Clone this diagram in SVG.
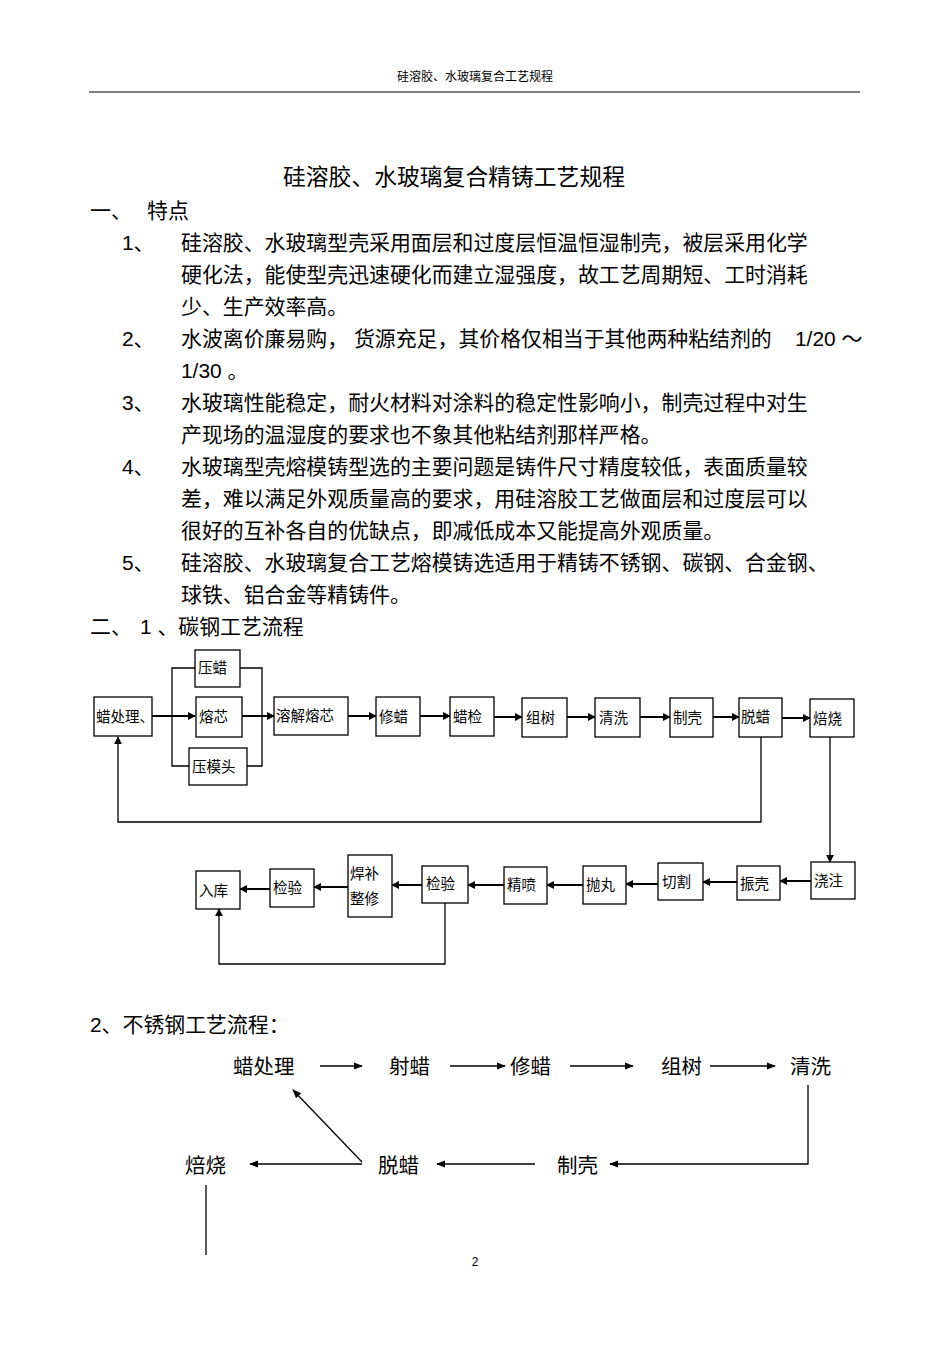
<svg xmlns="http://www.w3.org/2000/svg" width="950" height="1345" viewBox="0 0 950 1345">
<style>
.t{font-family:"Liberation Sans","Noto Sans CJK SC",sans-serif;fill:#000}
.b{font-size:20.9px}
.s{font-size:14.5px}
.f{font-size:20.5px}
rect{fill:#fff;stroke:#000;stroke-width:1.3}
.c line,.c polyline{stroke:#000;stroke-width:1.3;fill:none}
.c .a{stroke-width:2}
</style>
<defs>
<marker id="m" viewBox="0 0 10 10" refX="9" refY="5" markerWidth="8" markerHeight="8" orient="auto" markerUnits="userSpaceOnUse"><path d="M0,0L10,5L0,10z" fill="#000"/></marker>
<marker id="m2" viewBox="0 0 10 10" refX="9" refY="5" markerWidth="9" markerHeight="9" orient="auto" markerUnits="userSpaceOnUse"><path d="M0,1L10,5L0,9z" fill="#000"/></marker>
</defs>
<text class="t" x="475" y="81" font-size="12" fill="#333" text-anchor="middle">硅溶胶、水玻璃复合工艺规程</text>
<line x1="89" y1="92" x2="860" y2="92" stroke="#000" stroke-width="1"/>
<text class="t" x="454" y="185" font-size="22.8" text-anchor="middle">硅溶胶、水玻璃复合精铸工艺规程</text>
<g class="t b">
<text x="90" y="218">一、</text><text x="147" y="218">特点</text>
<text x="122" y="250">1、</text><text x="181" y="250">硅溶胶、水玻璃型壳采用面层和过度层恒温恒湿制壳，被层采用化学</text>
<text x="181" y="282">硬化法，能使型壳迅速硬化而建立湿强度，故工艺周期短、工时消耗</text>
<text x="181" y="314">少、生产效率高。</text>
<text x="122" y="346">2、</text><text x="181" y="346">水波离价廉易购， 货源充足，其价格仅相当于其他两种粘结剂的</text><text x="795" y="346">1/20 ～</text>
<text x="181" y="378">1/30 。</text>
<text x="122" y="410">3、</text><text x="181" y="410">水玻璃性能稳定，耐火材料对涂料的稳定性影响小，制壳过程中对生</text>
<text x="181" y="442">产现场的温湿度的要求也不象其他粘结剂那样严格。</text>
<text x="122" y="474">4、</text><text x="181" y="474">水玻璃型壳熔模铸型选的主要问题是铸件尺寸精度较低，表面质量较</text>
<text x="181" y="506">差，难以满足外观质量高的要求，用硅溶胶工艺做面层和过度层可以</text>
<text x="181" y="538">很好的互补各自的优缺点，即减低成本又能提高外观质量。</text>
<text x="122" y="570">5、</text><text x="181" y="570">硅溶胶、水玻璃复合工艺熔模铸选适用于精铸不锈钢、碳钢、合金钢、</text>
<text x="181" y="602">球铁、铝合金等精铸件。</text>
<text x="90" y="634">二、</text><text x="140" y="634">1 、碳钢工艺流程</text>
<text x="90" y="1032">2、不锈钢工艺流程：</text>
</g>
<g class="c">
<line class="a" x1="152" y1="716" x2="195" y2="716" marker-end="url(#m)"/>
<polyline points="195,668 172,668 172,766 189,766"/>
<polyline points="240,668 262,668 262,766 247,766"/>
<line class="a" x1="242" y1="716" x2="274" y2="716" marker-end="url(#m)"/>
<line class="a" x1="348" y1="716" x2="376" y2="716" marker-end="url(#m)"/>
<line class="a" x1="420" y1="716" x2="450" y2="716" marker-end="url(#m)"/>
<line class="a" x1="494" y1="717" x2="522" y2="717" marker-end="url(#m)"/>
<line class="a" x1="567" y1="717" x2="595" y2="717" marker-end="url(#m)"/>
<line class="a" x1="640" y1="717" x2="670" y2="717" marker-end="url(#m)"/>
<line class="a" x1="713" y1="717" x2="739" y2="717" marker-end="url(#m)"/>
<line class="a" x1="782" y1="718" x2="810" y2="718" marker-end="url(#m)"/>
<polyline points="761,737 761,822 118,822 118,737" marker-end="url(#m)"/>
<line x1="830" y1="737" x2="830" y2="862" marker-end="url(#m)"/>
<line class="a" x1="811" y1="881" x2="780" y2="881" marker-end="url(#m)"/>
<line class="a" x1="737" y1="882" x2="703" y2="882" marker-end="url(#m)"/>
<line class="a" x1="658" y1="884" x2="626" y2="884" marker-end="url(#m)"/>
<line class="a" x1="583" y1="885" x2="547" y2="885" marker-end="url(#m)"/>
<line class="a" x1="504" y1="885" x2="468" y2="885" marker-end="url(#m)"/>
<line class="a" x1="422" y1="885" x2="392" y2="885" marker-end="url(#m)"/>
<line class="a" x1="348" y1="887" x2="314" y2="887" marker-end="url(#m)"/>
<line class="a" x1="270" y1="889" x2="240" y2="889" marker-end="url(#m)"/>
<polyline points="445,903 445,964 219,964 219,909" marker-end="url(#m)"/>
<line x1="320" y1="1066" x2="362" y2="1066" marker-end="url(#m2)"/>
<line x1="450" y1="1066" x2="505" y2="1066" marker-end="url(#m2)"/>
<line x1="570" y1="1066" x2="633" y2="1066" marker-end="url(#m2)"/>
<line x1="710" y1="1066" x2="775" y2="1066" marker-end="url(#m2)"/>
<polyline points="808,1085 808,1164 610,1164" marker-end="url(#m2)"/>
<line x1="535" y1="1164" x2="437" y2="1164" marker-end="url(#m2)"/>
<line x1="362" y1="1164" x2="250" y2="1164" marker-end="url(#m2)"/>
<line x1="362" y1="1162" x2="293" y2="1090" marker-end="url(#m2)"/>
<line x1="206" y1="1185" x2="206" y2="1255"/>
</g>
<g class="t s">
<g id="n1"><rect x="94" y="697" width="58" height="39"/><text x="96" y="722">蜡处理、</text></g>
<g id="n2"><rect x="195" y="650" width="45" height="37"/><text x="198" y="673">压蜡</text></g>
<g id="n3"><rect x="196" y="697" width="46" height="40"/><text x="199" y="722">熔芯</text></g>
<g id="n4"><rect x="189" y="748" width="58" height="37"/><text x="192" y="772">压模头</text></g>
<g id="n5"><rect x="274" y="697" width="74" height="38"/><text x="276" y="721">溶解熔芯</text></g>
<g id="n6"><rect x="376" y="697" width="44" height="39"/><text x="379" y="722">修蜡</text></g>
<g id="n7"><rect x="450" y="697" width="44" height="39"/><text x="453" y="722">蜡检</text></g>
<g id="n8"><rect x="522" y="698" width="45" height="39"/><text x="526" y="723">组树</text></g>
<g id="n9"><rect x="595" y="698" width="45" height="39"/><text x="599" y="723">清洗</text></g>
<g id="n10"><rect x="670" y="698" width="43" height="39"/><text x="673" y="723">制壳</text></g>
<g id="n11"><rect x="739" y="698" width="43" height="39"/><text x="741" y="722">脱蜡</text></g>
<g id="n12"><rect x="810" y="699" width="44" height="38"/><text x="813" y="724">焙烧</text></g>
<g id="n13"><rect x="811" y="862" width="44" height="37"/><text x="814" y="886">浇注</text></g>
<g id="n14"><rect x="737" y="866" width="43" height="34"/><text x="740" y="889">振壳</text></g>
<g id="n15"><rect x="658" y="863" width="45" height="37"/><text x="662" y="887">切割</text></g>
<g id="n16"><rect x="583" y="866" width="43" height="38"/><text x="586" y="890">抛丸</text></g>
<g id="n17"><rect x="504" y="867" width="43" height="37"/><text x="507" y="890">精喷</text></g>
<g id="n18"><rect x="422" y="866" width="46" height="37"/><text x="426" y="889">检验</text></g>
<g id="n19"><rect x="348" y="855" width="44" height="62"/><text x="350" y="879">焊补</text><text x="350" y="904">整修</text></g>
<g id="n20"><rect x="270" y="869" width="44" height="38"/><text x="273" y="893">检验</text></g>
<g id="n21"><rect x="196" y="871" width="44" height="38"/><text x="199" y="896">入库</text></g>
</g>
<g class="t f">
<text id="s1" x="233" y="1074">蜡处理</text>
<text id="s2" x="389" y="1074">射蜡</text>
<text id="s3" x="510" y="1074">修蜡</text>
<text id="s4" x="661" y="1074">组树</text>
<text id="s5" x="790" y="1074">清洗</text>
<text id="s6" x="557" y="1173">制壳</text>
<text id="s7" x="378" y="1173">脱蜡</text>
<text id="s8" x="185" y="1173">焙烧</text>
</g>
<text class="t" x="475" y="1266" font-size="12" text-anchor="middle">2</text>
</svg>
